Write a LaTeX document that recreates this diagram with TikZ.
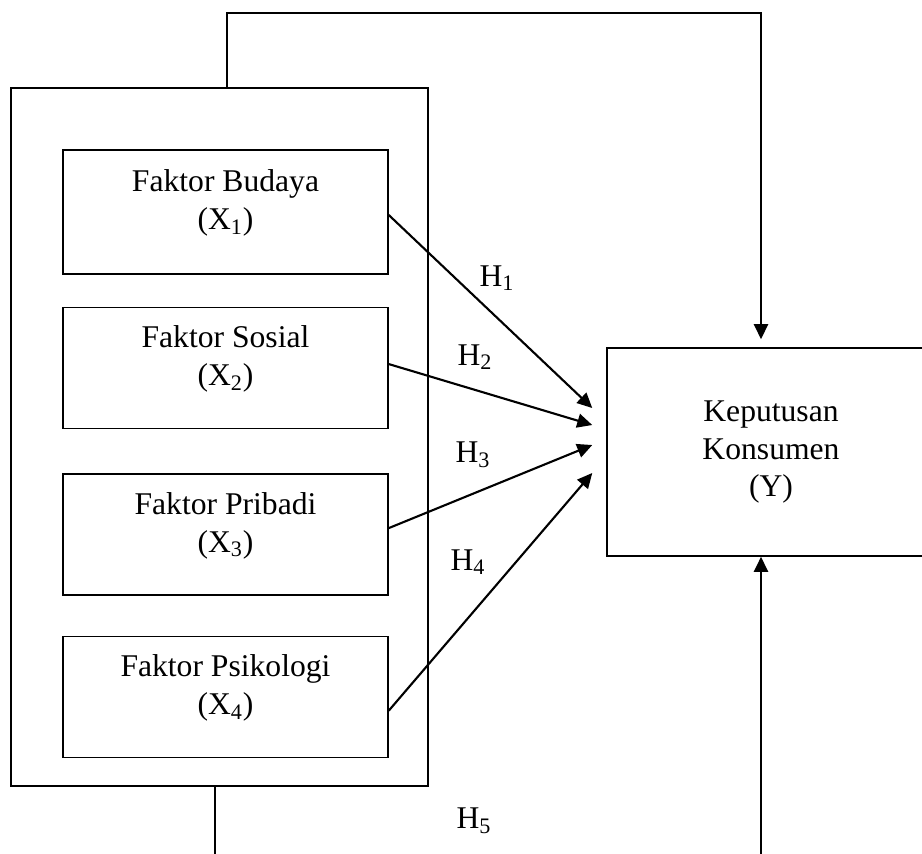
\documentclass[tikz,border=0pt]{standalone}
\usepackage{fontspec}
\setmainfont{Liberation Serif}
\usetikzlibrary{arrows.meta, positioning}

\newcommand{\faktor}[2]{\raisebox{0.18cm}[\height][\depth]{\begin{tabular}{@{}c@{}}#1\\(X\textsubscript{#2})\end{tabular}}}

\begin{document}
\begin{tikzpicture}[
  x=0.02cm, y=-0.02cm,
  every node/.style={font=\fontsize{18}{21.6}\selectfont},
  box/.style={rectangle, draw, line width=0.9pt, minimum width=6.5cm, minimum height=2.42cm, inner sep=0pt},
  frame/.style={rectangle, draw, line width=0.9pt, inner sep=0pt},
  arrow/.style={-{Triangle[length=0.3cm, width=0.28cm]}, line width=1.2pt},
  link/.style={line width=1.2pt}
]
  \useasboundingbox (0,0) rectangle (922,853);
  \clip (0,0) rectangle (922,853);

  \node[frame, minimum width=8.34cm, minimum height=13.96cm] (grp) at (219.5,437) {};
  \node[box, minimum height=2.48cm] (b1) at (225.5,212) {\faktor{Faktor Budaya}{1}\hspace{0.3cm}};
  \node[box, below=0.64cm of b1] (b2) {\faktor{Faktor Sosial}{2}};
  \node[box, below=0.88cm of b2] (b3) {\faktor{Faktor Pribadi}{3}};
  \node[box, below=0.80cm of b3] (b4) {\faktor{Faktor Psikologi}{4}};
  \node[frame, minimum width=6.56cm, minimum height=4.16cm, align=center] (y) at (771,452) {Keputusan\\Konsumen\\(Y)};

  % hypothesis labels
  \node (h1) at (497,278) {H\textsubscript{1}};
  \node (h2) at (475,357) {H\textsubscript{2}};
  \node (h3) at (473,455) {H\textsubscript{3}};
  \node (h4) at (468,562) {H\textsubscript{4}};
  \node (h5) at (474,821) {H\textsubscript{5}};

  \draw[arrow] ([yshift=-0.06cm]b1.east) -- ([xshift=-0.28cm, yshift=0.88cm]y.west);
  \draw[arrow] ([yshift=0.08cm]b2.east) -- ([xshift=-0.28cm, yshift=0.54cm]y.west);
  \draw[arrow] ([yshift=0.13cm]b3.east) -- ([xshift=-0.28cm, yshift=0.14cm]y.west);
  \draw[arrow] ([yshift=-0.27cm]b4.east) -- ([xshift=-0.28cm, yshift=-0.42cm]y.west);

  % simultaneous path
  \coordinate (tl) at (227,13);
  \coordinate (tr) at (761,13);
  \coordinate (bl) at (215,860);
  \coordinate (br) at (761,860);
  \draw[arrow, shorten >=0.16cm] (grp.north -| tl) -- (tl) -- (tr) -- (y.north -| tr);
  \draw[link] (grp.south -| bl) -- (bl);
  \draw[arrow] (br) -- (y.south -| br);
\end{tikzpicture}
\end{document}
